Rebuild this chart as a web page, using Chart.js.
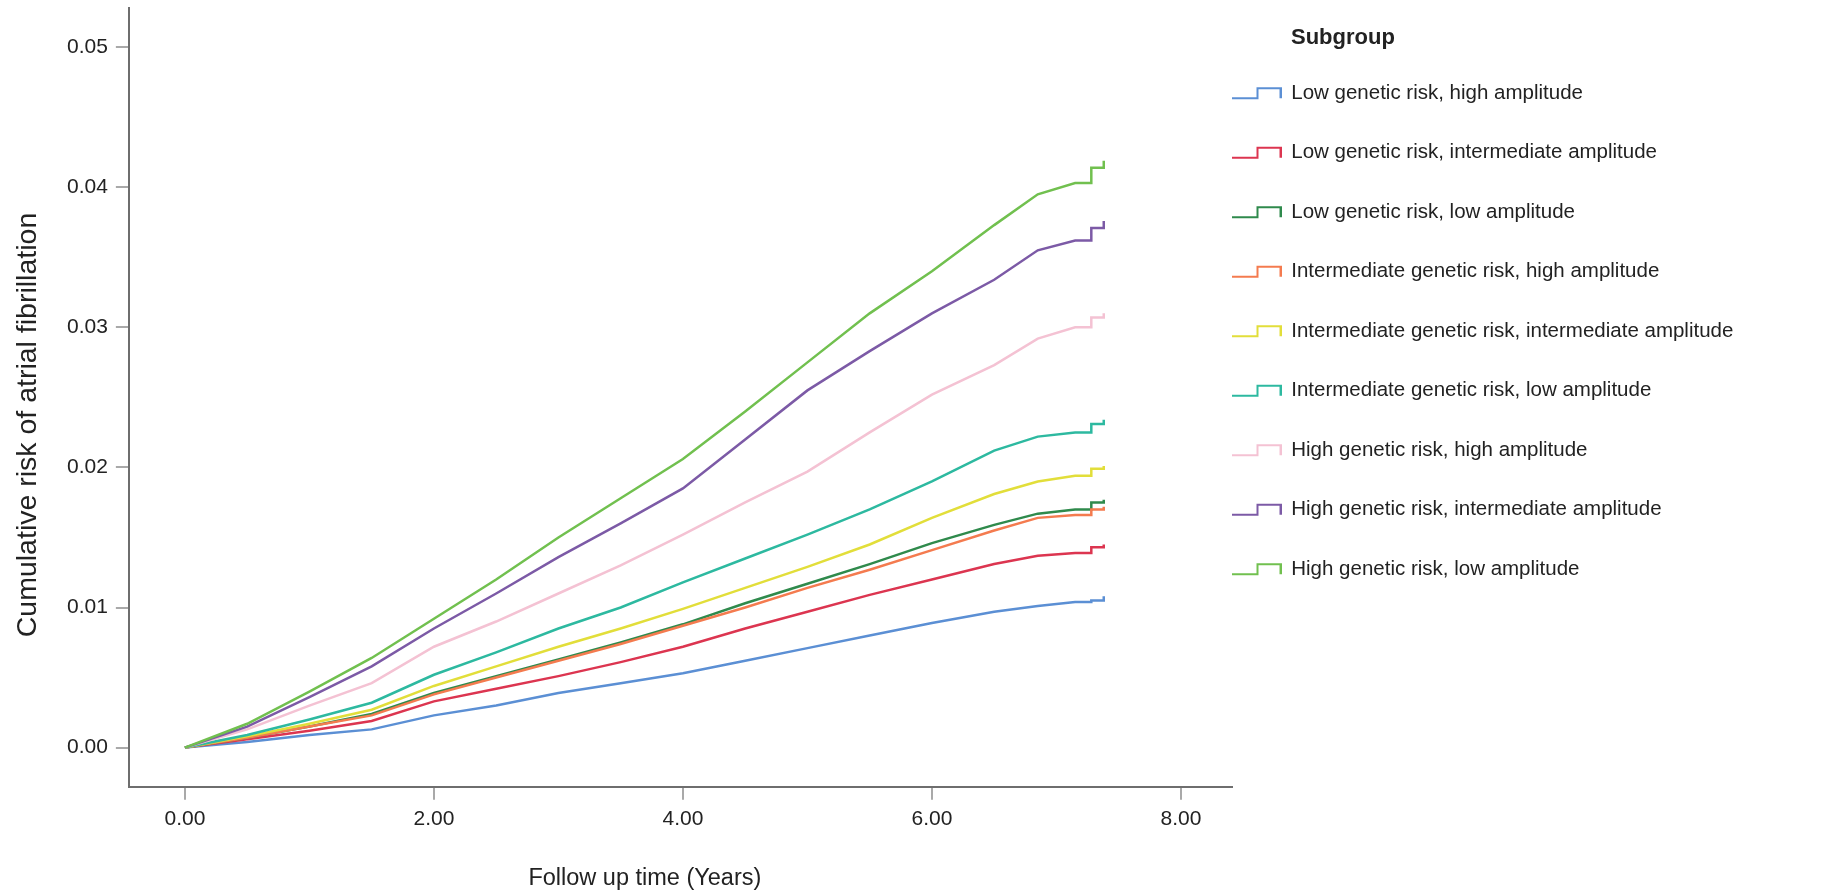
<!DOCTYPE html>
<html>
<head>
<meta charset="utf-8">
<title>Cumulative risk of atrial fibrillation</title>
<script src="https://cdn.jsdelivr.net/npm/chart.js@4.4.1/dist/chart.umd.min.js"></script>
<style>
    html, body { margin: 0; padding: 0; background: #ffffff; }
    #wrap { width: 1823px; height: 895px; }
</style>
</head>
<body>
<div id="wrap"><canvas id="af-risk-canvas" width="1823" height="895"></canvas></div>
<script>
// follow up time (years) where the curves were read; the repeated times are the late steps
var years = [0, 0.5, 1, 1.5, 2, 2.5, 3, 3.5, 4, 4.5, 5, 5.5, 6, 6.5, 6.85, 7.15, 7.28, 7.28, 7.38, 7.38];

// cumulative risk per subgroup
var lowGenHighAmp  = [0, 0.0004, 0.0009, 0.0013, 0.0023, 0.0030, 0.0039, 0.0046, 0.0053, 0.0062, 0.0071, 0.0080, 0.0089, 0.0097, 0.0101, 0.0104, 0.0104, 0.0105, 0.0105, 0.0108];
var lowGenMidAmp   = [0, 0.0006, 0.0012, 0.0019, 0.0033, 0.0042, 0.0051, 0.0061, 0.0072, 0.0085, 0.0097, 0.0109, 0.0120, 0.0131, 0.0137, 0.0139, 0.0139, 0.0143, 0.0143, 0.0145];
var lowGenLowAmp   = [0, 0.0007, 0.0015, 0.0024, 0.0039, 0.0051, 0.0063, 0.0075, 0.0088, 0.0103, 0.0117, 0.0131, 0.0146, 0.0159, 0.0167, 0.0170, 0.0170, 0.0175, 0.0175, 0.0177];
var midGenHighAmp  = [0, 0.0007, 0.0015, 0.0023, 0.0038, 0.0050, 0.0062, 0.0074, 0.0087, 0.0100, 0.0114, 0.0127, 0.0141, 0.0155, 0.0164, 0.0166, 0.0166, 0.0170, 0.0170, 0.0172];
var midGenMidAmp   = [0, 0.0008, 0.0017, 0.0027, 0.0044, 0.0058, 0.0072, 0.0085, 0.0099, 0.0114, 0.0129, 0.0145, 0.0164, 0.0181, 0.0190, 0.0194, 0.0194, 0.0199, 0.0199, 0.0201];
var midGenLowAmp   = [0, 0.0009, 0.0020, 0.0032, 0.0052, 0.0068, 0.0085, 0.0100, 0.0118, 0.0135, 0.0152, 0.0170, 0.0190, 0.0212, 0.0222, 0.0225, 0.0225, 0.0231, 0.0231, 0.0234];
var highGenHighAmp = [0, 0.0013, 0.0030, 0.0046, 0.0072, 0.0090, 0.0110, 0.0130, 0.0152, 0.0175, 0.0197, 0.0225, 0.0252, 0.0273, 0.0292, 0.0300, 0.0300, 0.0307, 0.0307, 0.0310];
var highGenMidAmp  = [0, 0.0015, 0.0036, 0.0058, 0.0085, 0.0110, 0.0136, 0.0160, 0.0185, 0.0220, 0.0255, 0.0283, 0.0310, 0.0334, 0.0355, 0.0362, 0.0362, 0.0371, 0.0371, 0.0376];
var highGenLowAmp  = [0, 0.0017, 0.0040, 0.0064, 0.0092, 0.0120, 0.0150, 0.0178, 0.0206, 0.0240, 0.0275, 0.0310, 0.0340, 0.0373, 0.0395, 0.0403, 0.0403, 0.0414, 0.0414, 0.0419];

var subgroupNames = [
    'Low genetic risk, high amplitude',
    'Low genetic risk, intermediate amplitude',
    'Low genetic risk, low amplitude',
    'Intermediate genetic risk, high amplitude',
    'Intermediate genetic risk, intermediate amplitude',
    'Intermediate genetic risk, low amplitude',
    'High genetic risk, high amplitude',
    'High genetic risk, intermediate amplitude',
    'High genetic risk, low amplitude'
];
var subgroupValues = [lowGenHighAmp, lowGenMidAmp, lowGenLowAmp, midGenHighAmp, midGenMidAmp,
                      midGenLowAmp, highGenHighAmp, highGenMidAmp, highGenLowAmp];
var subgroupColors = ['#5b8fd4', '#dc3550', '#2f8a4c', '#f47b4f', '#e2de3a',
                      '#2db9a0', '#f4c2d3', '#7c5aa6', '#71c04f'];

var xTicks = [0, 2, 4, 6, 8];
var yTicks = [0, 0.01, 0.02, 0.03, 0.04, 0.05];

var xTitle = 'Follow up time (Years)';
var yTitle = 'Cumulative risk of atrial fibrillation';
var legendTitle = 'Subgroup';

document.addEventListener('DOMContentLoaded', function() {
    var ctx = document.getElementById('af-risk-canvas').getContext('2d');
    var family = '"Liberation Sans", Arial, sans-serif';

    Chart.defaults.font.family = family;
    Chart.defaults.color = '#222222';

    // little step glyph used as legend marker
    function stepIcon(color) {
        var c = document.createElement('canvas');
        c.width = 50;
        c.height = 18;
        var g = c.getContext('2d');
        g.strokeStyle = color;
        g.lineWidth = 2;
        g.beginPath();
        g.moveTo(0, 14);
        g.lineTo(26, 14);
        g.lineTo(26, 4);
        g.lineTo(49, 4);
        g.lineTo(49, 14);
        g.stroke();
        return c;
    }

    var datasets = [];
    for (var i = 0; i < subgroupNames.length; i++) {
        var pts = [];
        for (var j = 0; j < years.length; j++) {
            pts.push({x: years[j], y: subgroupValues[i][j]});
        }
        datasets.push({
            label: subgroupNames[i],
            data: pts,
            borderColor: subgroupColors[i],
            backgroundColor: subgroupColors[i],
            borderWidth: 2.5,
            pointRadius: 0,
            pointStyle: stepIcon(subgroupColors[i]),
            fill: false,
            tension: 0,
            order: subgroupNames.length - i
        });
    }

    // legend sits just right of the plot; axis titles are off-centre in the original
    var titlesAndLegend = {
        id: 'titlesAndLegend',
        afterLayout: function(chart) {
            var lg = chart.legend;
            var area = chart.chartArea;
            lg.left = area.right - 39;
            lg.right = chart.width;
            lg.top = area.top + 36;
            lg.bottom = chart.height;
        },
        afterDraw: function(chart) {
            var lg = chart.legend;
            var area = chart.chartArea;
            var c = chart.ctx;
            c.save();
            c.fillStyle = '#222222';
            c.textBaseline = 'middle';

            c.textAlign = 'left';
            c.font = 'bold 22px ' + family;
            c.fillText(legendTitle, lg.left + 39 + 59, area.top + 30);

            c.textAlign = 'center';
            c.font = '23.5px ' + family;
            c.fillText(xTitle, area.left + 516, area.bottom + 92);

            c.translate(28, area.top + 417);
            c.rotate(-Math.PI / 2);
            c.font = '28.5px ' + family;
            c.fillText(yTitle, 0, 0);
            c.restore();
        }
    };

    new Chart(ctx, {
        type: 'line',
        data: { datasets: datasets },
        plugins: [titlesAndLegend],
        options: {
            responsive: false,
            animation: false,
            layout: { padding: { top: 8, right: 591, left: 59, bottom: 56 } },
            plugins: {
                legend: {
                    position: 'chartArea',
                    align: 'start',
                    labels: {
                        usePointStyle: true,
                        pointStyleWidth: 49,
                        padding: 39,
                        font: { size: 20.5 },
                        color: '#222222',
                        sort: function(a, b) { return a.datasetIndex - b.datasetIndex; }
                    }
                },
                tooltip: { enabled: false }
            },
            scales: {
                x: {
                    type: 'linear',
                    min: -0.45,
                    max: 8.41,
                    afterBuildTicks: function(scale) {
                        scale.ticks = xTicks.map(function(v) { return {value: v}; });
                    },
                    ticks: {
                        padding: 7,
                        font: { size: 21 },
                        callback: function(v) { return v.toFixed(2); }
                    },
                    grid: { drawOnChartArea: false, tickLength: 13, color: '#a9a9a9', lineWidth: 2 },
                    border: { color: '#6e6e6e', width: 2 }
                },
                y: {
                    min: -0.0028,
                    max: 0.0528,
                    afterBuildTicks: function(scale) {
                        scale.ticks = yTicks.map(function(v) { return {value: v}; });
                    },
                    afterFit: function(scale) {
                        scale.paddingTop = 0;
                    },
                    ticks: {
                        padding: 8,
                        font: { size: 21 },
                        callback: function(v) { return v.toFixed(2); }
                    },
                    grid: { drawOnChartArea: false, tickLength: 13, color: '#a9a9a9', lineWidth: 2 },
                    border: { color: '#6e6e6e', width: 2 }
                }
            }
        }
    });
});
</script>
</body>
</html>
